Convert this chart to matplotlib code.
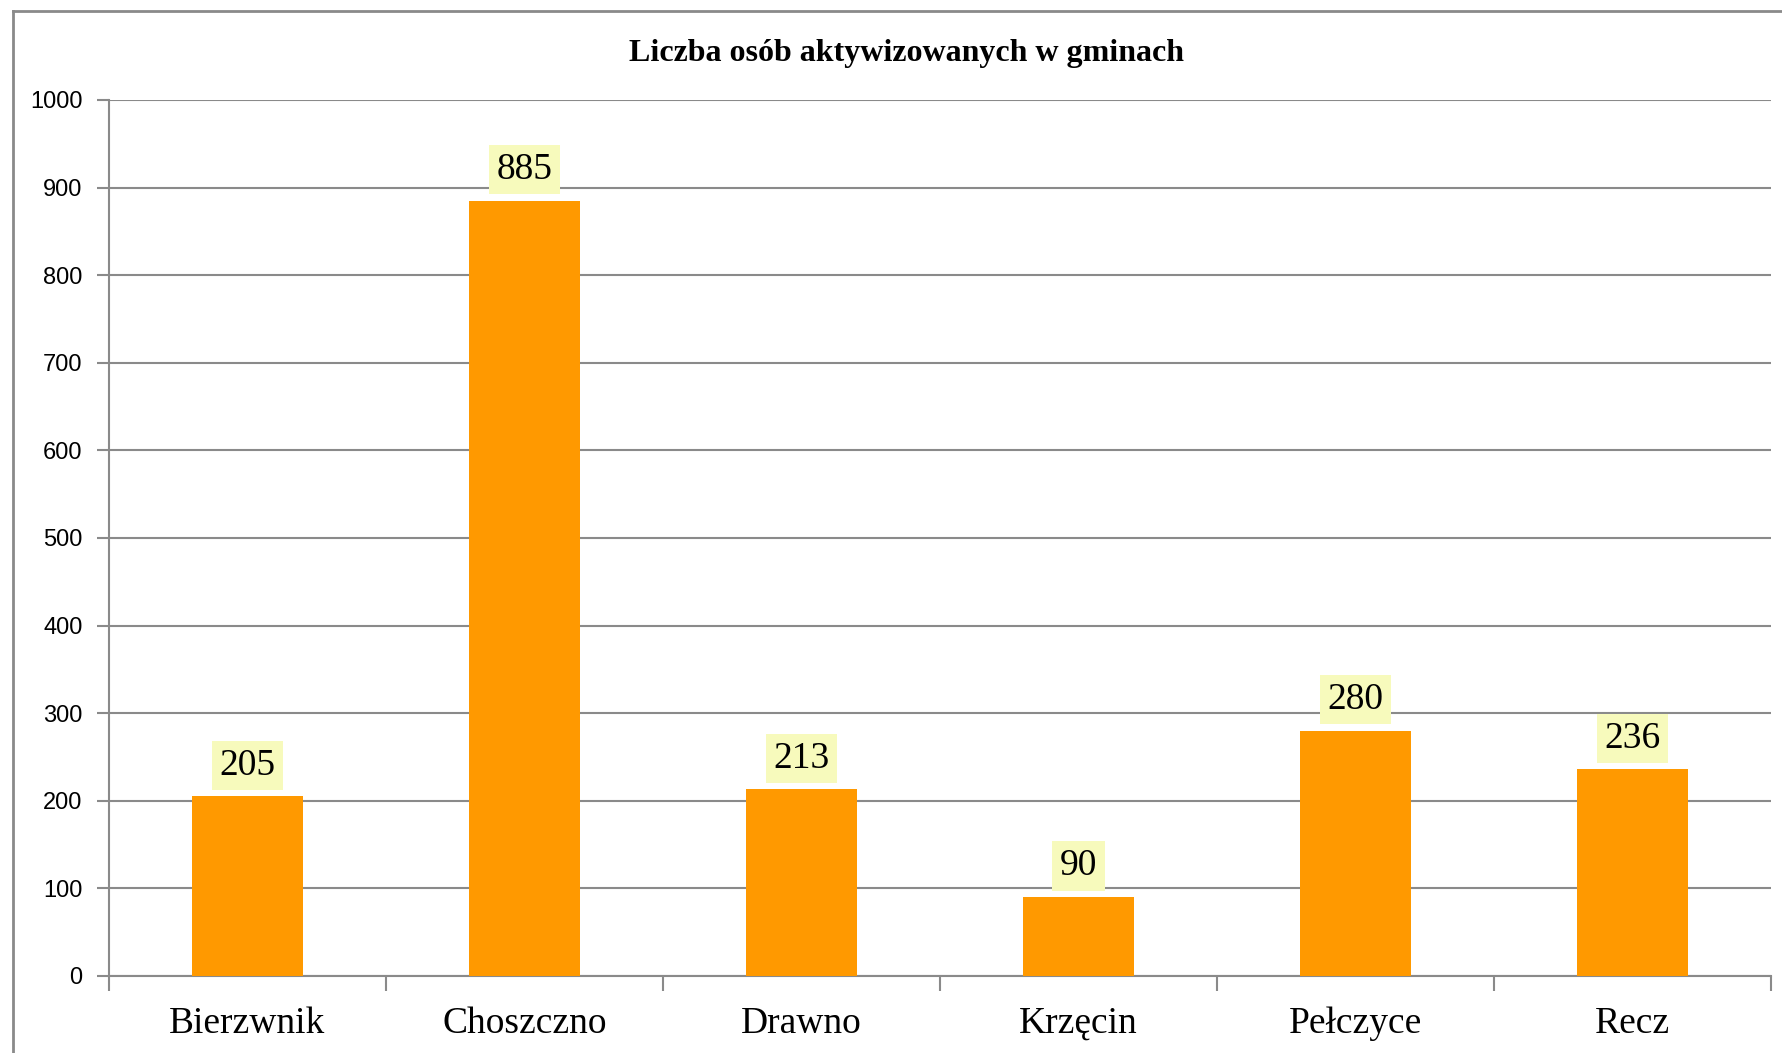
import matplotlib
matplotlib.use("Agg")
import matplotlib.pyplot as plt
from matplotlib.lines import Line2D

categories = ["Bierzwnik", "Choszczno", "Drawno", "Krzęcin", "Pełczyce", "Recz"]
values = [205, 885, 213, 90, 280, 236]
yticks = [0, 100, 200, 300, 400, 500, 600, 700, 800, 900, 1000]
title = "Liczba osób aktywizowanych w gminach"

W, H, DPI = 1783, 1053, 100
fig = plt.figure(figsize=(W / DPI, H / DPI), dpi=DPI)
fig.patch.set_facecolor("white")
ax = fig.add_axes([109 / W, 1 - 976 / H, (1771 - 109) / W, (976 - 100) / H])

grid_c = "#8a8a8a"
x = list(range(len(categories)))
ax.bar(x, values, width=0.40, color="#FF9900", zorder=3)
ax.set_xlim(-0.5, len(categories) - 0.5)
ax.set_ylim(0, 1000)
ax.set_yticks(yticks)
ax.set_yticklabels([str(v) for v in yticks], fontsize=17, family="Liberation Sans")
ax.yaxis.grid(True, color=grid_c, linewidth=1.5, zorder=0)
ax.set_axisbelow(True)

ax.set_xticks([i - 0.5 for i in range(len(categories) + 1)])
ax.set_xticklabels([])
ax.set_xticks(x, minor=True)
ax.set_xticklabels(categories, minor=True, fontsize=27, family="Liberation Serif")
ax.tick_params(axis="x", which="minor", length=0, pad=22)
ax.tick_params(axis="x", which="major", length=11, width=1.5, color=grid_c, direction="out")
ax.tick_params(axis="y", length=9, width=1.5, color=grid_c, pad=10)

for s in ["top", "right"]:
    ax.spines[s].set_visible(False)
for s in ["left", "bottom"]:
    ax.spines[s].set_color(grid_c)
    ax.spines[s].set_linewidth(1.5)

for xi, v in zip(x, values):
    ax.annotate(str(v), xy=(xi, v), xytext=(0, 31), textcoords="offset pixels",
                ha="center", va="center", fontsize=27, family="Liberation Serif",
                bbox=dict(boxstyle="square,pad=0.2", facecolor="#F7FABC", edgecolor="none"),
                zorder=4)

fig.text(907 / W, 1 - 53 / H, title, ha="center", va="center", fontsize=23,
         fontweight="bold", family="Liberation Serif")

# outer chart frame (top and left visible)
fig.add_artist(Line2D([13 / W, 1.0], [1 - 11 / H, 1 - 11 / H], transform=fig.transFigure,
                      color=grid_c, linewidth=2))
fig.add_artist(Line2D([13 / W, 13 / W], [0, 1 - 11 / H], transform=fig.transFigure,
                      color=grid_c, linewidth=2))

fig.savefig("out.png", dpi=DPI)
